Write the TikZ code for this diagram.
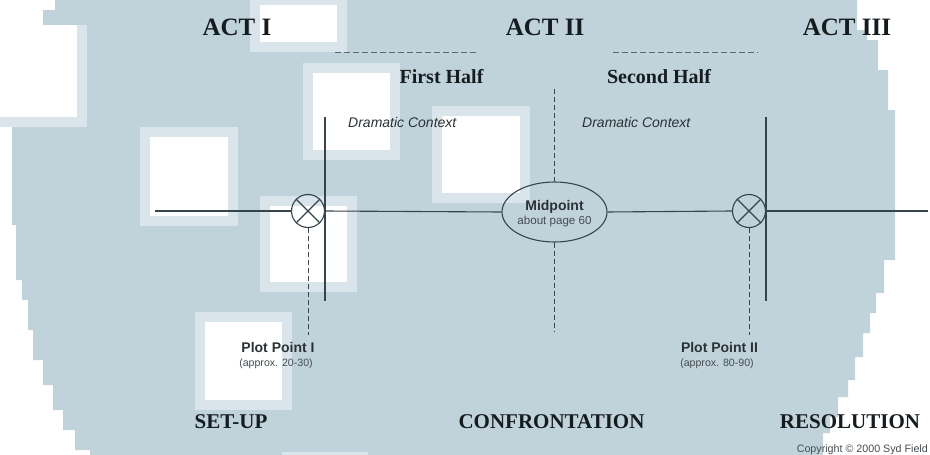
\documentclass[tikz,border=0pt]{standalone}
\usepackage{fontspec}
\setmainfont{Liberation Serif}
\setsansfont{Liberation Sans}
\usetikzlibrary{shapes.geometric}
\definecolor{bg}{HTML}{C1D3DA}
\definecolor{halo}{HTML}{D9E5EA}
\definecolor{ink}{HTML}{141C20}
\definecolor{linec}{HTML}{36454B}
\definecolor{smallink}{HTML}{2A3236}
\definecolor{greyink}{HTML}{454D51}
\begin{document}
\begin{tikzpicture}[x=1pt,y=-1pt,
  acttitle/.style={font=\fontsize{25}{25}\selectfont\bfseries, text=ink, anchor=base, inner sep=0},
  halftitle/.style={font=\fontsize{20}{20}\selectfont\bfseries, text=ink, anchor=base, inner sep=0},
  bottomtitle/.style={font=\fontsize{21}{21}\selectfont\bfseries, text=ink, anchor=base, inner sep=0},
  ctx/.style={font=\sffamily\itshape\fontsize{14}{14}\selectfont, text=smallink, anchor=base west, inner sep=0},
  ppname/.style={font=\sffamily\bfseries\fontsize{14}{14}\selectfont, text=smallink, anchor=base, inner sep=0},
  ppnote/.style={font=\sffamily\fontsize{10.6}{11}\selectfont, text=greyink, anchor=base, inner sep=0},
  solidline/.style={draw=linec, line width=1.1pt},
  dashline/.style={draw=linec, line width=1pt, dash pattern=on 5pt off 3pt},
  topdash/.style={draw=linec!80, line width=1pt, dash pattern=on 6pt off 3pt},
  crossmark/.style={circle, draw=linec, line width=1.1pt, minimum size=33pt, inner sep=0},
  block/.style={fill=halo},
  blockcore/.style={fill=white}
]
\useasboundingbox (0,0) rectangle (930,455);
\fill[white] (0,0) rectangle (930,455);
% background shape
\fill[bg] (55,0) -- (857,0) -- (857,30) -- (867,30) -- (867,40) -- (878,40) -- (878,70) -- (888,70) -- (888,110) -- (895,110) -- (895,260) -- (884,260) -- (884,293) -- (876,293) -- (876,313) -- (870,313) -- (870,333) -- (863,333) -- (863,357) -- (855,357) -- (855,380) -- (848,380) -- (848,397) -- (838,397) -- (838,417) -- (830,417) -- (830,433) -- (823,433) -- (823,455) -- (90,455) -- (90,450) -- (75,450) -- (75,430) -- (63,430) -- (63,410) -- (53,410) -- (53,385) -- (43,385) -- (43,360) -- (33,360) -- (33,330) -- (28,330) -- (28,300) -- (22,300) -- (22,280) -- (16,280) -- (16,225) -- (12,225) -- (12,30) -- (43,30) -- (43,10) -- (55,10) -- cycle;
% white blocks
\foreach \xa/\ya/\xb/\yb in {250/-5/347/52, 303/63/400/160, 140/127/238/226, 260/196/357/292, 195/312/292/410, 432/106/530/203, 282/452/368/470, 0/25/87/127}{
  \fill[block] (\xa,\ya) rectangle (\xb,\yb);
  \fill[blockcore] (\xa+10,\ya+10) rectangle (\xb-10,\yb-10);
}
\fill[white] (0,25) rectangle (77,117);

% titles
\node[acttitle] (act1) at (237,35) {ACT I};
\node[acttitle] (act2) at (545,35) {ACT II};
\node[acttitle] (act3) at (847,35) {ACT III};
\node[halftitle] (first) at (441.5,83) {First Half};
\node[halftitle] (second) at (659,83) {Second Half};
\coordinate (d1a) at (335,52); \coordinate (d1b) at (478,52);
\coordinate (d2a) at (613,52); \coordinate (d2b) at (758,52);
\draw[topdash] (d1a) -- (d1b);
\draw[topdash] (d2a) -- (d2b);
\node[ctx] (ctx1) at (348,127) {Dramatic Context};
\node[ctx] (ctx2) at (582,127) {Dramatic Context};

% timeline
\node[crossmark] (pp1) at (308,211) {};
\node[crossmark] (pp2) at (749,211) {};
\draw[linec, line width=1.1pt] (pp1.north west) -- (pp1.south east) (pp1.north east) -- (pp1.south west);
\draw[linec, line width=1.1pt] (pp2.north west) -- (pp2.south east) (pp2.north east) -- (pp2.south west);
\node[ellipse, draw=linec, line width=1.1pt, minimum width=105pt, minimum height=60pt, inner sep=0] (mid) at (554.5,212) {};
\node[ppname] (midt) at (554.5,210) {Midpoint};
\node[ppnote, font=\sffamily\fontsize{11.6}{12}\selectfont] (midn) at (554.5,224) {about page 60};

\coordinate (tl) at (155,211);
\coordinate (tr) at (928,211);
\draw[solidline] (tl) -- (pp1.west);
\draw[solidline] (pp1.east) -- (mid.west);
\draw[solidline] (mid.east) -- (pp2.west);
\draw[solidline] (pp2.east) -- (tr);

% act dividers
\coordinate (v1a) at (325,117); \coordinate (v1b) at (325,301);
\coordinate (v2a) at (766,117); \coordinate (v2b) at (766,301);
\draw[solidline] (v1a) -- (v1b);
\draw[solidline] (v2a) -- (v2b);

% midpoint dashed
\coordinate (mtop) at (554.5,89);
\coordinate (mbot) at (554.5,332);
\draw[dashline] (mtop) -- (mid.north);
\draw[dashline] (mid.south) -- (mbot);

% plot point dashes
\coordinate (p1b) at (308,335);
\coordinate (p2b) at (749,335);
\draw[dashline] (pp1.south) -- (p1b);
\draw[dashline] (pp2.south) -- (p2b);

\node[ppname] (pp1t) at (278,352) {Plot Point I};
\node[ppnote] (pp1n) at (276,366) {(approx. 20-30)};
\node[ppname] (pp2t) at (719.5,352) {Plot Point II};
\node[ppnote] (pp2n) at (717,366) {(approx. 80-90)};

\node[bottomtitle] (setup) at (231,428) {SET-UP};
\node[bottomtitle] (conf) at (551.5,428) {CONFRONTATION};
\node[bottomtitle] (res) at (850,428) {RESOLUTION};

\node[font=\sffamily\fontsize{10.7}{11}\selectfont, text=greyink, anchor=base east, inner sep=0] (copy) at (928,452) {Copyright © 2000 Syd Field};
\end{tikzpicture}
\end{document}
